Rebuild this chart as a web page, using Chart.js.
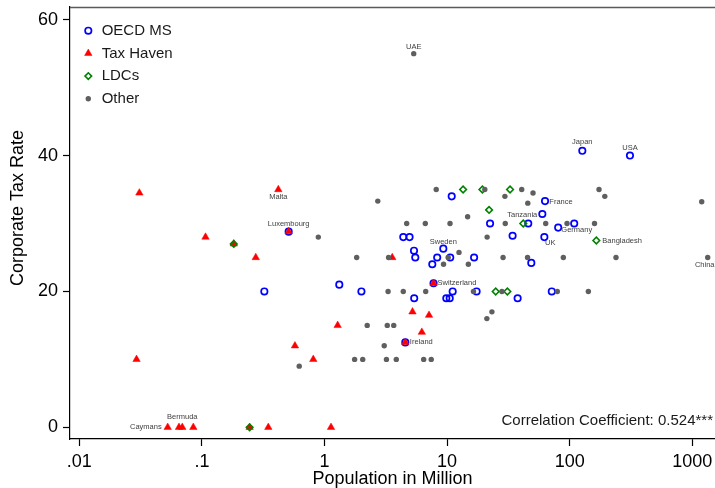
<!DOCTYPE html>
<html>
<head>
<meta charset="utf-8">
<script src="https://cdn.jsdelivr.net/npm/chart.js@4.4.1/dist/chart.umd.min.js"></script>
<style>
  html, body { margin: 0; padding: 0; background: #fff; }
  #chart { display: block; }
</style>
</head>
<body>
<canvas id="chart" width="715" height="488"></canvas>
<script>
'use strict'
/* data: population (million) and corporate tax rate (%) per group */
const oecdPop = [0.323, 0.51, 1.32, 2.0, 4.39, 4.94, 5.37, 5.5, 8.3, 7.57, 5.39, 10.9, 62.9, 59.8, 22.4, 45.9, 108.8, 80.5, 62.1, 34.2, 9.31, 10.6, 16.6, 48.6, 11.1, 17.4, 71.4, 37.6, 9.85, 10.5, 126.7, 310, 4.56, 7.75];
const oecdTax = [20, 28.8, 21, 20, 28, 28, 26, 25, 25, 24, 19, 34, 33.3, 31.4, 30, 30, 30, 29.4, 28, 28.2, 26.3, 25, 25, 24.2, 20, 20, 20, 19, 19, 19, 40.7, 40, 12.5, 21.2];

const havenPop = [0.0309, 0.42, 0.107, 0.182, 0.275, 0.51, 0.0293, 0.0526, 0.065, 0.0692, 0.0851, 0.245, 0.348, 1.13, 1.28, 0.574, 0.81, 5.22, 7.12, 6.22, 4.56, 7.75, 3.57];
const havenTax = [34.5, 35, 28, 27, 25, 28.8, 10, 0, 0, 0, 0, 0, 0, 0, 15, 12, 10, 17, 16.5, 14, 12.5, 21.2, 25];

const ldcPop = [0.182, 0.245, 13.5, 19.4, 32.6, 22.0, 41.8, 164.8, 24.9, 31.0];
const ldcTax = [27, 0, 35, 35, 35, 32, 30, 27.5, 20, 20];

const otherPop = [5.34, 0.89, 2.72, 1.83, 3.33, 3.30, 4.39, 6.69, 16.4, 28.0, 79.2, 141.9, 23.2, 21.1, 2.23, 3.25, 3.67, 3.07, 1.76, 2.05, 3.20, 3.85, 6.44, 7.42, 0.622, 4.68, 6.64, 10.56, 29.8, 63.7, 95.1, 159.3, 21.2, 10.2, 12.5, 9.35, 14.9, 28.6, 45.3, 88.7, 238.5, 1335, 14.7, 8.15, 20.3, 40.6, 50.2, 29.6, 45.5, 173.4, 193.3, 1193];
const otherTax = [55, 28, 33.3, 25, 25, 20, 20, 20, 20, 20, 20, 20, 17, 16, 15, 15, 15, 12, 10, 10, 10, 10, 10, 10, 9, 30, 30, 30, 30, 30, 30, 30, 28, 25, 25.75, 24, 24, 25, 25, 25, 25, 25, 31, 35, 35, 35, 34.5, 34, 33, 35, 34, 33.2];

// country names shown next to some points (index -> name)
const oecdLabels = { 1: 'Luxembourg', 12: 'France', 17: 'Germany', 18: 'UK', 20: 'Sweden', 30: 'Japan', 31: 'USA', 32: 'Ireland', 33: 'Switzerland' };
const havenLabels = { 1: 'Malta', 7: 'Caymans', 9: 'Bermuda' };
const ldcLabels = { 6: 'Tanzania', 7: 'Bangladesh' };
const otherLabels = { 0: 'UAE', 41: 'China' };

const groupNames = ['OECD MS', 'Tax Haven', 'LDCs', 'Other'];
const xTicks = [0.01, 0.1, 1, 10, 100, 1000];
const xTickLabels = ['.01', '.1', '1', '10', '100', '1000'];
const yTicks = [0, 20, 40, 60];
const xTitle = 'Population in Million';
const yTitle = 'Corporate Tax Rate';
const corrText = 'Correlation Coefficient: 0.524***';

// label placement: [align, dx, dy]
const labelPlace = {
  UAE: ['center', 0, -7], Japan: ['center', 0, -8.5], USA: ['center', 0, -7.5],
  France: ['left', 4.3, 0.5], Tanzania: ['center', -1, -8.5], Germany: ['left', 3.2, 2.5],
  UK: ['left', 0.7, 5.5], Sweden: ['center', 0, -7], Bangladesh: ['left', 6, 0],
  China: ['center', -3, 7], Switzerland: ['left', 4, 0], Ireland: ['left', 4.5, 0],
  Luxembourg: ['center', 0, -7.7], Malta: ['center', 0, 7.3], Bermuda: ['center', 0, -10],
  Caymans: ['right', -6, 0]
};

const FONT = "'Liberation Sans', Arial, Helvetica, sans-serif";
Chart.defaults.font.family = FONT;

function toPoints(xs, ys) {
  return xs.map((x, i) => ({ x: x, y: ys[i] }));
}

const styles = [
  { pointStyle: 'circle', radius: 3.2, borderWidth: 1.7, borderColor: '#0000ff', backgroundColor: 'rgba(0,0,0,0)' },
  { pointStyle: 'triangle', radius: 4.3, borderWidth: 0.5, borderColor: '#ff0000', backgroundColor: '#ff0000' },
  { pointStyle: 'rectRot', radius: 3.3, borderWidth: 1.6, borderColor: '#008000', backgroundColor: 'rgba(0,0,0,0)' },
  { pointStyle: 'circle', radius: 2.7, borderWidth: 0, borderColor: '#5f5f5f', backgroundColor: '#5f5f5f' }
];
const groupData = [toPoints(oecdPop, oecdTax), toPoints(havenPop, havenTax), toPoints(ldcPop, ldcTax), toPoints(otherPop, otherTax)];
const groupLabels = [oecdLabels, havenLabels, ldcLabels, otherLabels];

// draw order like the original: OECD at the bottom, Other on top
const datasets = groupData.map((d, i) => ({
  label: groupNames[i],
  data: d,
  order: 4 - i,
  pointStyle: styles[i].pointStyle,
  pointRadius: styles[i].radius,
  pointBorderWidth: styles[i].borderWidth,
  pointBorderColor: styles[i].borderColor,
  pointBackgroundColor: styles[i].backgroundColor,
  showLine: false
}));

const xMin = 0.008397, xMax = 1531;
const yMin = -1.72, yMax = 61.87;

function drawMarker(c, st, x, y) {
  c.save();
  c.fillStyle = st.backgroundColor;
  c.strokeStyle = st.borderColor;
  c.lineWidth = st.borderWidth;
  Chart.helpers.drawPoint(c, { pointStyle: st.pointStyle, radius: st.radius, rotation: 0, borderWidth: st.borderWidth }, x, y);
  c.restore();
}

const annotate = {
  id: 'annotate',
  afterDraw(chart) {
    const c = chart.ctx, area = chart.chartArea;
    c.save();
    // top border of the plot region
    c.strokeStyle = '#5a5a5a';
    c.lineWidth = 1.4;
    c.beginPath();
    c.moveTo(area.left, area.top + 0.5);
    c.lineTo(area.right, area.top + 0.5);
    c.stroke();

    // country labels
    c.font = '7.5px ' + FONT;
    c.fillStyle = '#404040';
    c.textBaseline = 'middle';
    groupLabels.forEach((labels, di) => {
      const meta = chart.getDatasetMeta(di);
      Object.keys(labels).forEach(k => {
        const name = labels[k];
        const el = meta.data[+k];
        const p = labelPlace[name];
        c.textAlign = p[0];
        c.fillText(name, el.x + p[1], el.y + p[2]);
      });
    });

    // legend
    c.font = '15px ' + FONT;
    c.textAlign = 'left';
    groupNames.forEach((n, i) => {
      const y = 30.7 + i * 22.7;
      drawMarker(c, styles[i], 88.3, y);
      c.fillStyle = '#1a1a1a';
      c.fillText(n, 101.7, y);
    });

    // correlation note
    c.textAlign = 'right';
    c.fillText(corrText, 713, 421);

    // y axis title
    c.font = '18px ' + FONT;
    c.fillStyle = '#000';
    c.textAlign = 'center';
    c.translate(18, 208);
    c.rotate(-Math.PI / 2);
    c.fillText(yTitle, 0, 0);
    c.restore();
  }
};

const axisCommon = {
  border: { display: true, color: '#000', width: 1.2 },
  grid: { display: true, drawOnChartArea: false, drawTicks: true, tickLength: 7, tickColor: '#000', tickWidth: 1.2 }
};

const ctx = document.getElementById('chart').getContext('2d');
new Chart(ctx, {
  type: 'scatter',
  data: { datasets: datasets },
  options: {
    responsive: false,
    animation: false,
    layout: { autoPadding: false, padding: { top: 7, right: 0, bottom: 0, left: 0 } },
    plugins: { legend: { display: false }, tooltip: { enabled: false } },
    scales: {
      x: {
        type: 'logarithmic',
        min: xMin,
        max: xMax,
        afterBuildTicks: s => { s.ticks = xTicks.map(v => ({ value: v })); },
        afterFit: s => { s.height = 49; s.paddingLeft = 0; s.paddingRight = 0; },
        border: axisCommon.border,
        grid: axisCommon.grid,
        ticks: {
          autoSkip: false, maxRotation: 0, padding: 5, color: '#000', font: { size: 18 },
          callback: v => xTickLabels[xTicks.indexOf(v)]
        },
        title: { display: true, text: xTitle, color: '#000', font: { size: 18 }, padding: { top: 0, bottom: -2 } }
      },
      y: {
        type: 'linear',
        min: yMin,
        max: yMax,
        afterBuildTicks: s => { s.ticks = yTicks.map(v => ({ value: v })); },
        afterFit: s => { s.width = 70; s.paddingTop = 0; s.paddingBottom = 0; },
        border: axisCommon.border,
        grid: axisCommon.grid,
        ticks: { padding: 5, color: '#000', font: { size: 18 } },
        title: { display: false }
      }
    }
  },
  plugins: [annotate]
});
</script>
</body>
</html>
